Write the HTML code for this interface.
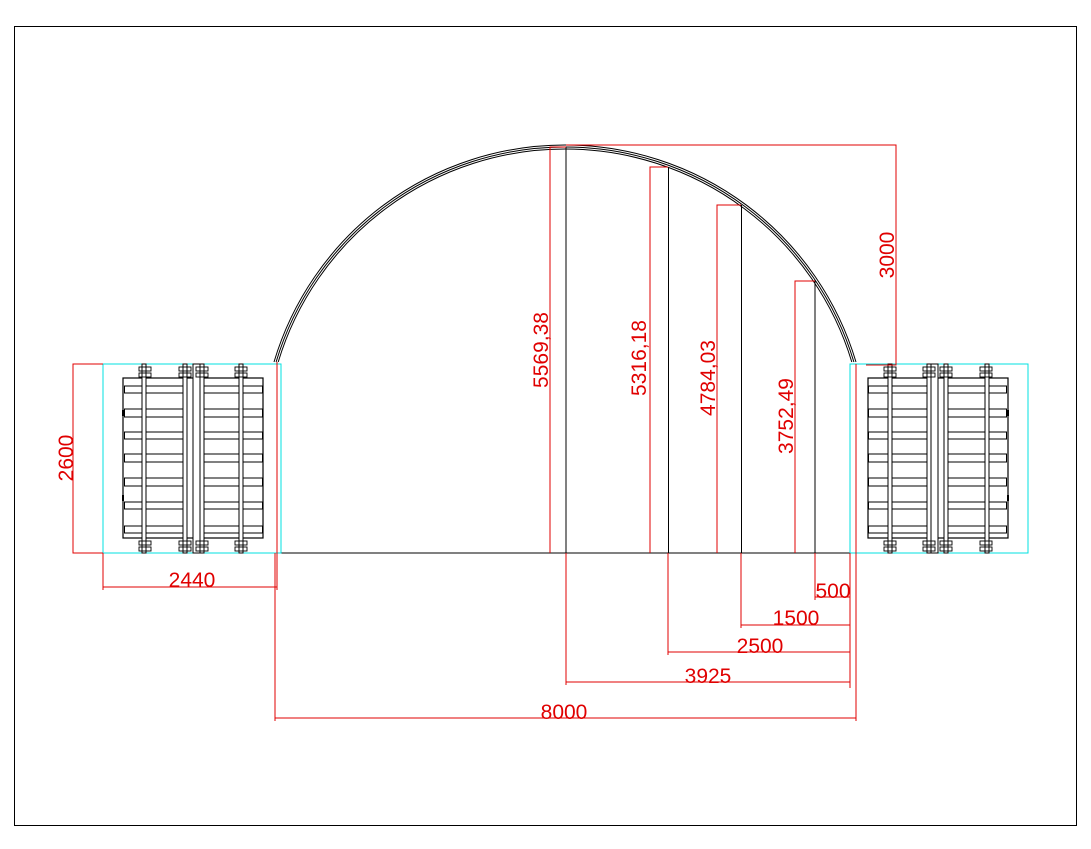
<!DOCTYPE html>
<html><head><meta charset="utf-8"><style>
html,body{margin:0;padding:0;background:#fff;}
svg{display:block;}
text{font-family:"Liberation Sans",sans-serif;fill:#e00000;font-size:21px;}
</style></head><body>
<svg width="1091" height="849" viewBox="0 0 1091 849" xmlns="http://www.w3.org/2000/svg">
<defs>
<g id="cont">
  <rect x="103" y="364" width="178" height="189" fill="none" stroke="#00e0e0" stroke-width="1"/>
  <rect x="123" y="378" width="140" height="160" fill="none" stroke="#000" stroke-width="1.2"/>
  <g fill="none" stroke="#000" stroke-width="1">
    <rect x="124.5" y="386" width="62" height="7"/><rect x="203.5" y="386" width="59" height="7"/>
    <rect x="124.5" y="409" width="62" height="8"/><rect x="203.5" y="409" width="59" height="8"/>
    <rect x="124.5" y="432" width="62" height="7"/><rect x="203.5" y="432" width="59" height="7"/>
    <rect x="124.5" y="454" width="62" height="8"/><rect x="203.5" y="454" width="59" height="8"/>
    <rect x="124.5" y="478" width="62" height="8"/><rect x="203.5" y="478" width="59" height="8"/>
    <rect x="124.5" y="502" width="62" height="7"/><rect x="203.5" y="502" width="59" height="7"/>
    <rect x="124.5" y="526" width="62" height="7"/><rect x="203.5" y="526" width="59" height="7"/>
  </g>
  <g fill="#fff" stroke="#000" stroke-width="1">
    <rect x="142" y="364" width="4" height="189"/>
    <rect x="183" y="364" width="4" height="189"/>
    <rect x="193" y="364" width="10" height="189"/>
    <rect x="200" y="364" width="4" height="189"/>
    <rect x="239" y="364" width="4" height="189"/>
  </g>
  <g fill="none" stroke="#000" stroke-width="0.9">
    <rect x="139" y="367" width="12" height="4"/><rect x="139" y="373" width="12" height="4"/>
    <rect x="179" y="367" width="12" height="4"/><rect x="179" y="373" width="12" height="4"/>
    <rect x="196" y="367" width="12" height="4"/><rect x="196" y="373" width="12" height="4"/>
    <rect x="235" y="367" width="12" height="4"/><rect x="235" y="373" width="12" height="4"/>
    <rect x="139" y="541" width="12" height="4"/><rect x="139" y="547" width="12" height="4"/>
    <rect x="179" y="541" width="12" height="4"/><rect x="179" y="547" width="12" height="4"/>
    <rect x="196" y="541" width="12" height="4"/><rect x="196" y="547" width="12" height="4"/>
    <rect x="235" y="541" width="12" height="4"/><rect x="235" y="547" width="12" height="4"/>
  </g>
  <rect x="122" y="410" width="2" height="6" fill="#000"/>
  <rect x="122" y="495" width="2" height="6" fill="#000"/>
</g>
</defs>
<rect x="14.5" y="26.5" width="1062" height="799" fill="none" stroke="#000" stroke-width="1"/>

<!-- arch triple -->
<g fill="none" stroke="#000" stroke-width="1">
  <path d="M274 362 A303.6 303.6 0 0 1 856 362"/>
  <path d="M276.1 362 A301.6 301.6 0 0 1 853.9 362"/>
  <path d="M278.2 362 A299.6 299.6 0 0 1 851.8 362"/>
</g>
<!-- ground and posts -->
<g stroke="#000" stroke-width="1">
  <line x1="275" y1="553" x2="851" y2="553"/>
  <line x1="566" y1="147" x2="566" y2="553"/>
  <line x1="668.5" y1="167" x2="668.5" y2="553"/>
  <line x1="741.5" y1="205" x2="741.5" y2="553"/>
  <line x1="815" y1="281" x2="815" y2="553"/>
</g>

<use href="#cont"/>
<use href="#cont" transform="translate(1131,0) scale(-1,1)"/>

<!-- red dimensions -->
<g stroke="#e00000" stroke-width="1" fill="none">
  <path d="M566 147 H550 V553"/>
  <path d="M668 167 H650 V553"/>
  <path d="M741 205 H717 V553"/>
  <path d="M815 281 H795 V553"/>
  <path d="M566 145 H896 V365 H866"/>
  <path d="M103 364 H73 V553 H103"/>
  <path d="M103 553 V590"/>
  <path d="M103 587 H277"/>
  <path d="M277 362 V590"/>
  <path d="M275 553 V721"/>
  <path d="M275 718 H856"/>
  <path d="M856 364 V721"/>
  <path d="M850 553 V688"/>
  <path d="M815 553 V600"/>
  <path d="M815 597 H850"/>
  <path d="M741 553 V628"/>
  <path d="M741 625 H850"/>
  <path d="M668 553 V655"/>
  <path d="M668 652 H850"/>
  <path d="M566 553 V685"/>
  <path d="M566 682 H850"/>
</g>
<text transform="translate(548,350) rotate(-90)" text-anchor="middle">5569,38</text>
<text transform="translate(646,358) rotate(-90)" text-anchor="middle">5316,18</text>
<text transform="translate(715,378) rotate(-90)" text-anchor="middle">4784,03</text>
<text transform="translate(793,416) rotate(-90)" text-anchor="middle">3752,49</text>
<text transform="translate(894,255) rotate(-90)" text-anchor="middle">3000</text>
<text transform="translate(73,458) rotate(-90)" text-anchor="middle">2600</text>
<text x="192" y="587" text-anchor="middle">2440</text>
<text x="833" y="598" text-anchor="middle">500</text>
<text x="796" y="625" text-anchor="middle">1500</text>
<text x="760" y="653" text-anchor="middle">2500</text>
<text x="708" y="683" text-anchor="middle">3925</text>
<text x="564" y="719" text-anchor="middle">8000</text>
</svg>
</body></html>
